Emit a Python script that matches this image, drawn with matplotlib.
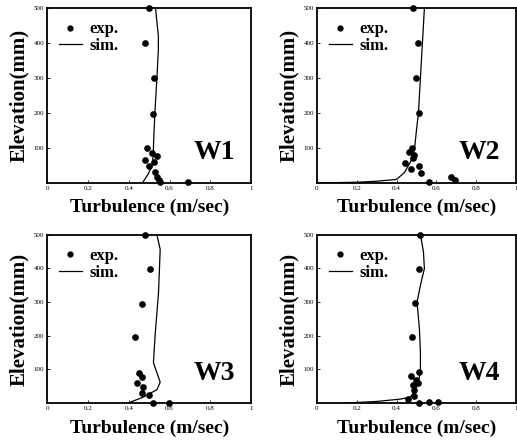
import matplotlib
matplotlib.use("Agg")
import matplotlib.pyplot as plt
from matplotlib.lines import Line2D

plt.rcParams['font.family'] = ['Liberation Serif', 'DejaVu Serif']

# experimental points (turbulence m/s, elevation mm)
w1_exp_x = [0.498, 0.482, 0.522, 0.518, 0.490, 0.514, 0.539, 0.482, 0.522, 0.498, 0.531, 0.539, 0.547, 0.555, 0.69]
w1_exp_y = [500, 399, 299, 196, 99, 87, 77, 66, 59, 49, 32, 18, 9, 2, 3]
w1_sim_x = [0.531, 0.545, 0.545, 0.538, 0.528, 0.522, 0.520, 0.515, 0.495, 0.470]
w1_sim_y = [500, 420, 380, 300, 200, 120, 80, 50, 25, 3]

w2_exp_x = [0.482, 0.507, 0.498, 0.512, 0.478, 0.462, 0.490, 0.482, 0.440, 0.515, 0.473, 0.523, 0.565, 0.673, 0.695]
w2_exp_y = [500, 399, 301, 199, 99, 89, 80, 70, 58, 49, 39, 29, 4, 18, 9]
w2_sim_x = [0.0, 0.20, 0.30, 0.40, 0.44, 0.47, 0.49, 0.50, 0.51, 0.52, 0.53, 0.54]
w2_sim_y = [0, 2, 5, 10, 30, 60, 95, 150, 200, 300, 400, 500]

w3_exp_x = [0.480, 0.505, 0.464, 0.431, 0.452, 0.464, 0.440, 0.472, 0.464, 0.497, 0.520, 0.595]
w3_exp_y = [500, 398, 295, 195, 90, 78, 59, 49, 29, 24, 1, 1]
w3_sim_x = [0.538, 0.554, 0.546, 0.529, 0.521, 0.554, 0.538, 0.472, 0.400]
w3_sim_y = [500, 457, 330, 200, 120, 62, 40, 18, 1]

w4_exp_x = [0.520, 0.515, 0.495, 0.477, 0.515, 0.473, 0.498, 0.485, 0.507, 0.490, 0.490, 0.457, 0.512, 0.565, 0.610]
w4_exp_y = [500, 399, 298, 196, 93, 81, 68, 54, 59, 39, 22, 11, 1, 2, 2]
w4_sim_x = [0.14, 0.30, 0.42, 0.47, 0.49, 0.51, 0.52, 0.52, 0.515, 0.503, 0.52, 0.54, 0.535, 0.52]
w4_sim_y = [0, 5, 12, 18, 35, 60, 100, 150, 220, 300, 350, 400, 450, 500]

panels = [
    ("W1", w1_exp_x, w1_exp_y, w1_sim_x, w1_sim_y),
    ("W2", w2_exp_x, w2_exp_y, w2_sim_x, w2_sim_y),
    ("W3", w3_exp_x, w3_exp_y, w3_sim_x, w3_sim_y),
    ("W4", w4_exp_x, w4_exp_y, w4_sim_x, w4_sim_y),
]

x_ticks = [0, 0.2, 0.4, 0.6, 0.8, 1.0]
x_tick_labels = ["0", "0.2", "0.4", "0.6", "0.8", "1"]
y_ticks = [100, 200, 300, 400, 500]

# axes boxes in figure fraction (left, bottom, width, height)
boxes = [
    (0.091, 0.587, 0.395, 0.395),
    (0.613, 0.587, 0.385, 0.395),
    (0.091, 0.090, 0.395, 0.380),
    (0.613, 0.090, 0.385, 0.380),
]

fig = plt.figure(figsize=(5.17, 4.43), dpi=100)

for (name, ex, ey, sx, sy), box in zip(panels, boxes):
    ax = fig.add_axes(box)
    ax.plot(sx, sy, color='black', lw=0.9)
    ax.plot(ex, ey, 'o', color='black', ms=3.8, ls='none', clip_on=False)
    ax.set_xlim(0, 1)
    ax.set_ylim(0, 500)
    ax.set_xticks(x_ticks)
    ax.set_xticklabels(x_tick_labels)
    ax.set_yticks(y_ticks)
    ax.tick_params(labelsize=5, length=2, width=0.6, direction='in', pad=2)
    for sp in ax.spines.values():
        sp.set_linewidth(1.3)
    ax.set_xlabel("Turbulence (m/sec)", fontsize=14, fontweight='bold', labelpad=6)
    ax.set_ylabel("Elevation(mm)", fontsize=15, fontweight='bold', labelpad=3)
    ax.text(0.92, 0.175, name, transform=ax.transAxes, fontsize=20,
            fontweight='bold', ha='right', va='center')
    handles = [Line2D([], [], marker='o', color='black', ls='none', ms=3.5),
               Line2D([], [], color='black', lw=0.9)]
    ax.legend(handles, ["exp.", "sim."], loc='upper left', bbox_to_anchor=(0.0, 0.99),
              frameon=False, prop={'size': 12, 'weight': 'bold'},
              handlelength=1.4, handletextpad=0.45, labelspacing=0.05, borderpad=0.2)

fig.savefig("out.png", dpi=100)
